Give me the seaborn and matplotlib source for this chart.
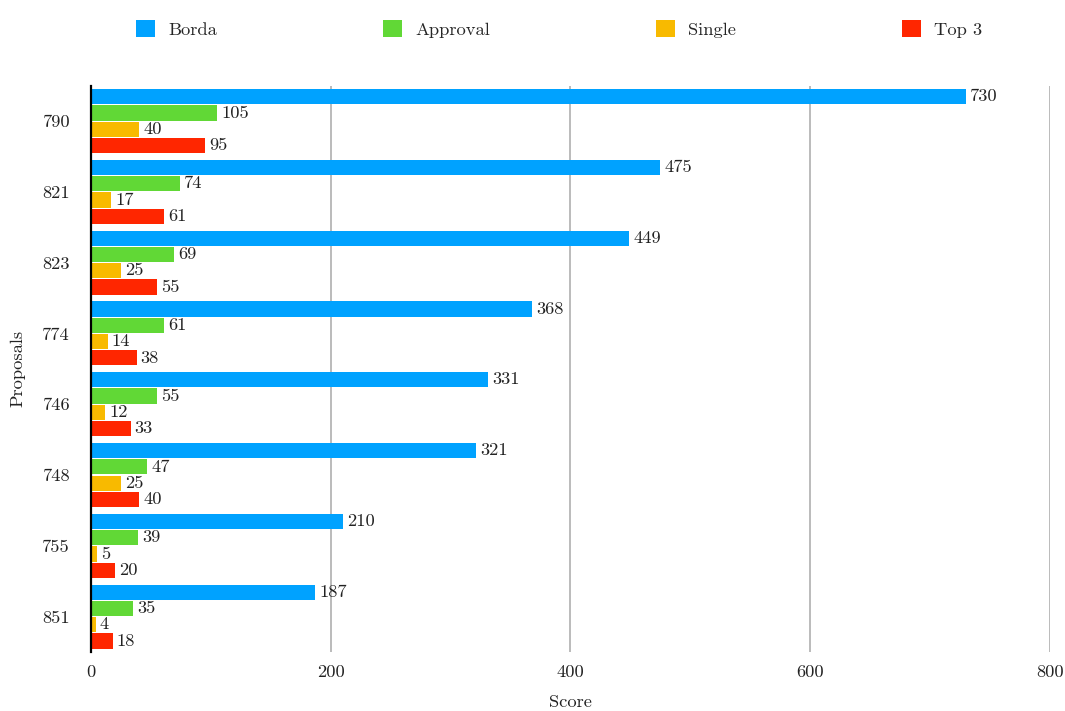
import matplotlib
matplotlib.use("Agg")
import matplotlib.pyplot as plt
from matplotlib.patches import Patch
import pandas as pd
import seaborn as sns

# Scores per proposal for each voting method
proposals = ["790", "821", "823", "774", "746", "748", "755", "851"]
methods = ["Borda", "Approval", "Single", "Top 3"]
borda = [730, 475, 449, 368, 331, 321, 210, 187]
approval = [105, 74, 69, 61, 55, 47, 39, 35]
single = [40, 17, 25, 14, 12, 25, 5, 4]
top3 = [95, 61, 55, 38, 33, 40, 20, 18]
x_ticks = [0, 200, 400, 600, 800]

colors = ["#00A2FF", "#61D836", "#F8BA00", "#FF2600"]
FS = 13.3

sns.set_theme(style="white")
plt.rcParams["font.family"] = ["cmr10", "DejaVu Serif"]
plt.rcParams["axes.formatter.use_mathtext"] = True
plt.rcParams["mathtext.fontset"] = "cm"

rows = []
for m, vals in zip(methods, [borda, approval, single, top3]):
    for p, v in zip(proposals, vals):
        rows.append({"Proposal": p, "Method": m, "Score": v})
df = pd.DataFrame(rows)

fig = plt.figure(figsize=(10.65, 7.11), dpi=100)
ax = fig.add_axes([0.0854, 0.083, 0.9005, 0.7965])

sns.barplot(data=df, y="Proposal", x="Score", hue="Method", order=proposals,
            hue_order=methods, palette=colors, orient="h", width=0.92,
            saturation=1, legend=False, ax=ax)

# Leave a thin gap between bars in a group
for bar in ax.patches:
    h = bar.get_height()
    new_h = 0.215
    bar.set_y(bar.get_y() + (h - new_h) / 2)
    bar.set_height(new_h)
    bar.set_edgecolor("none")

for cont in ax.containers:
    ax.bar_label(cont, padding=3, fontsize=FS, color="#222222")

ax.set_xlim(0, 800)
ax.set_xticks(x_ticks)
ax.set_xticklabels([str(t) for t in x_ticks])
ax.set_ylim(len(proposals) - 0.5, -0.5)
ax.grid(axis="x", color="#bbbbbb", linewidth=1.4)
ax.grid(axis="y", visible=False)
ax.set_axisbelow(True)

for side in ["top", "right", "bottom"]:
    ax.spines[side].set_visible(False)
ax.spines["left"].set_color("black")
ax.spines["left"].set_linewidth(1.6)
ax.spines["left"].set_zorder(5)

ax.tick_params(axis="x", length=0, pad=9, labelsize=FS, colors="#222222")
ax.tick_params(axis="y", length=0, pad=15, labelsize=FS, colors="#222222")
ax.set_xlabel("Score", fontsize=FS, labelpad=10.5, color="#222222")
ax.set_ylabel("Proposals", fontsize=FS, labelpad=12, color="#222222")

handles = [Patch(facecolor=c, edgecolor="none", label=m) for c, m in zip(colors, methods)]
fig.legend(handles=handles, loc="center left", bbox_to_anchor=(0.128, 0.959),
           ncol=4, frameon=False, fontsize=FS, handlelength=1.03,
           handleheight=1.03, handletextpad=0.7, columnspacing=9.0,
           borderaxespad=0, borderpad=0)

fig.savefig("out.png", dpi=100, facecolor="white")
